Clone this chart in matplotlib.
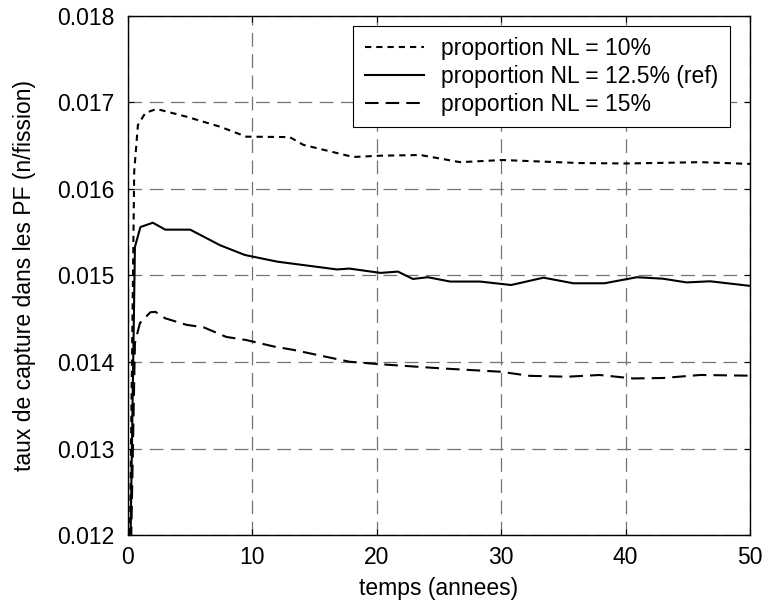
import matplotlib
matplotlib.use("Agg")
import matplotlib.pyplot as plt

# temps (annees) et taux de capture pour chaque proportion NL
t_10 = [0, 0.5, 0.8, 1.4, 2.3, 4.7, 7.4, 9.5, 13.0, 14.1, 18.1, 20.3, 23.5,
        26.7, 30.1, 36.3, 40.1, 46.0, 50]
y_10 = [0.0100, 0.0162, 0.01674, 0.01688, 0.016925, 0.016836, 0.01672,
        0.016605, 0.0166, 0.01651, 0.01637, 0.016385, 0.016393, 0.01631,
        0.016335, 0.0163, 0.016295, 0.01631, 0.01629]

t_125 = [0, 0.56, 1.0, 2.0, 3.0, 5.0, 7.4, 9.4, 12.0, 16.8, 17.8, 20.3, 21.7,
         22.9, 24.1, 25.9, 28.3, 30.8, 33.4, 35.8, 38.3, 40.9, 43.0, 44.9,
         46.8, 50]
y_125 = [0.0100, 0.01533, 0.01556, 0.01561, 0.01553, 0.01553, 0.01535,
         0.015237, 0.01516, 0.01507, 0.01508, 0.01503, 0.015045, 0.01496,
         0.01498, 0.01493, 0.01493, 0.01489, 0.014975, 0.01491, 0.01491,
         0.01498, 0.014963, 0.01492, 0.014933, 0.01488]

t_15 = [0, 0.56, 0.96, 1.8, 2.2, 3.0, 4.7, 6.1, 7.9, 9.5, 11.7, 13.3, 17.8,
        20.0, 25.1, 29.9, 32.3, 35.3, 37.9, 40.6, 43.0, 46.0, 50]
y_15 = [0.0100, 0.01422, 0.01445, 0.014575, 0.01458, 0.014505, 0.01443,
        0.0144, 0.01429, 0.014254, 0.01418, 0.01414, 0.014003, 0.013977,
        0.013927, 0.013888, 0.01384, 0.01383, 0.01385, 0.01381, 0.013815,
        0.01385, 0.013842]

labels = ["proportion NL = 10%", "proportion NL = 12.5% (ref)",
          "proportion NL = 15%"]
xticks = [0, 10, 20, 30, 40, 50]
yticks = [0.012, 0.013, 0.014, 0.015, 0.016, 0.017, 0.018]

fs = 16.5
plt.rcParams["font.family"] = ["Liberation Sans", "DejaVu Sans"]
plt.rcParams["font.size"] = fs

fig = plt.figure(figsize=(7.64, 6.01), dpi=100)
ax = fig.add_axes([0.1675, 0.1098, 0.8142, 0.8636])

lw = 1.5
ax.plot(t_10, y_10, color="black", lw=lw, linestyle=(0, (3.0, 2.4)),
        label=labels[0])
ax.plot(t_125, y_125, color="black", lw=lw, linestyle="-", label=labels[1])
ax.plot(t_15, y_15, color="black", lw=lw, linestyle=(0, (6.5, 3.4)),
        label=labels[2])

ax.set_xlim(0, 50)
ax.set_ylim(0.012, 0.018)
ax.set_xticks(xticks)
ax.set_yticks(yticks)
ax.set_yticklabels(["%.3f" % v for v in yticks])

ax.grid(True, color="0.45", lw=0.9, linestyle=(0, (11, 6)))
ax.tick_params(direction="in", length=4, width=0.8, top=True, right=True,
               labelsize=fs)
ax.tick_params(axis="y", pad=10)
ax.tick_params(axis="x", pad=8)
for s in ax.spines.values():
    s.set_linewidth(1.0)

ax.set_xlabel("temps (annees)", fontsize=fs, labelpad=6)
ax.set_ylabel("taux de capture dans les PF (n/fission)", fontsize=fs,
              labelpad=15)

leg = ax.legend(loc="upper right", bbox_to_anchor=(0.968, 0.9807),
                fancybox=False, edgecolor="black", framealpha=1,
                handlelength=2.6, handletextpad=0.75, labelspacing=0.2,
                borderpad=0.5, borderaxespad=0, fontsize=fs)
leg.get_frame().set_linewidth(0.8)

fig.savefig("out.png", dpi=100)
